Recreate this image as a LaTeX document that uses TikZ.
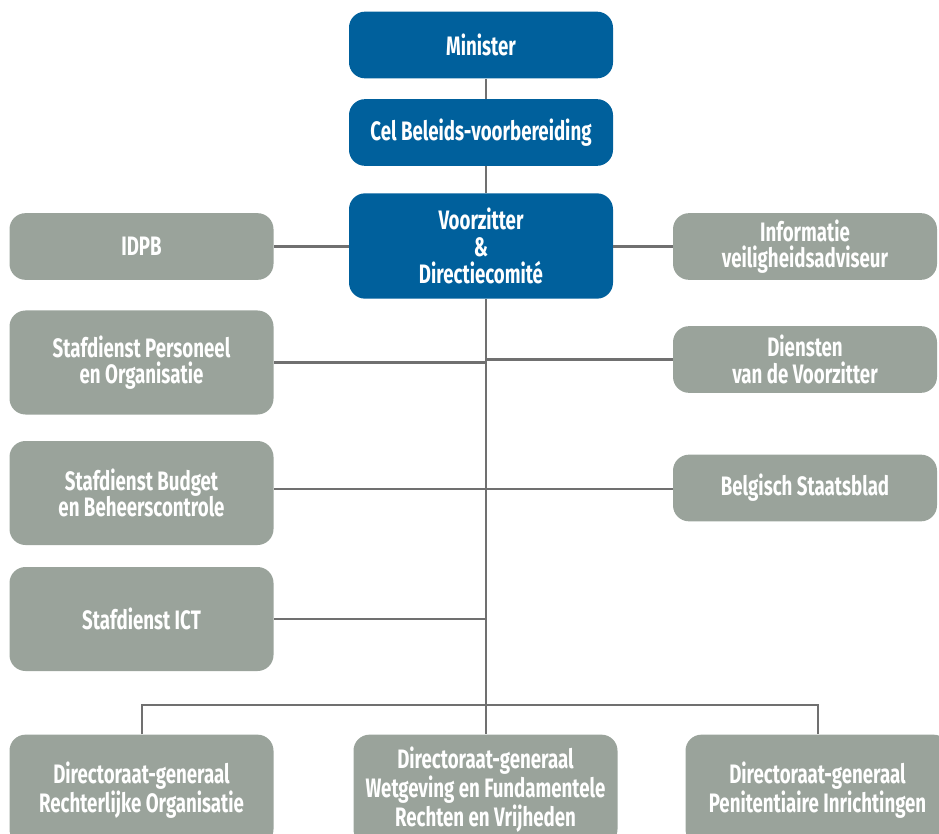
\documentclass[tikz,border=0pt]{standalone}
\usepackage{fontspec}
\setmainfont{Fira Sans}[FakeStretch=0.7]
\definecolor{orgblue}{RGB}{0,96,156}
\definecolor{orggrey}{RGB}{154,163,155}
\definecolor{orgline}{RGB}{112,112,112}

\begin{document}
\begin{tikzpicture}[x=0.75pt, y=-0.75pt,
      bluebox/.style={rectangle, rounded corners=12pt, fill=orgblue, text=white,
        font=\fontsize{20}{20}\selectfont\bfseries, align=center,
        minimum width=198pt, minimum height=50pt, inner sep=0pt},
      greybox/.style={bluebox, fill=orggrey},
      orgline/.style={draw=orgline, line width=2.2pt}]

    \clip (0,0) rectangle (939,834);

    \node[bluebox] (min) at (481,45) {Minister};
    \node[bluebox] (cel) at (481,132.5) {Cel Beleids-voorbereiding};
    \node[bluebox, minimum height=79pt] (vz) at (481,246) {Voorzitter\\\&\\Directiecomit\'e};

    \node[greybox] (idpb) at (141.5,246.5) {IDPB};
    \node[greybox, minimum height=78pt] (pers) at (141.5,362.5) {Stafdienst Personeel\\en Organisatie};
    \node[greybox, minimum height=78pt] (budget) at (141.5,493) {Stafdienst Budget\\en Beheerscontrole};
    \node[greybox, minimum height=78pt] (ict) at (141.5,619) {Stafdienst ICT};

    \node[greybox] (info) at (805,246.5) {Informatie\\veiligheidsadviseur};
    \node[greybox] (vzdienst) at (805,359.5) {Diensten\\van de Voorzitter};
    \node[greybox] (staats) at (805,488) {Belgisch Staatsblad};

    \node[greybox, minimum height=83pt] (dgro) at (141.5,790) {Directoraat-generaal\\Rechterlijke Organisatie};
    \node[greybox, minimum height=83pt] (dgwet) at (485.5,790) {Directoraat-generaal\\Wetgeving en Fundamentele\\Rechten en Vrijheden};
    \node[greybox, minimum height=83pt] (dgpi) at (817.5,790) {Directoraat-generaal\\Penitentiaire Inrichtingen};

    % trunk
    \coordinate (tr) at (486,0);
    \coordinate (split) at (486,705);

    \draw[orgline] (min.south -| tr) -- (cel.north -| tr);
    \draw[orgline] (cel.south -| tr) -- (vz.north -| tr);
    \draw[orgline] (vz.south -| tr) -- (dgwet.north -| tr);

    \draw[orgline] (idpb.east) -- (vz.west |- idpb.east);
    \draw[orgline] (vz.east |- info.west) -- (info.west);
    \draw[orgline] (pers.east) -- (pers.east -| tr);
    \draw[orgline] (vzdienst.west -| tr) -- (vzdienst.west);
    \draw[orgline] (budget.east |- 0,489) -- (staats.west |- 0,489);
    \draw[orgline] (ict.east) -- (ict.east -| tr);

    \draw[orgline] (dgro.north -| 142,0) |- (split) -| (dgpi.north -| 818,0);

\end{tikzpicture}
\end{document}
